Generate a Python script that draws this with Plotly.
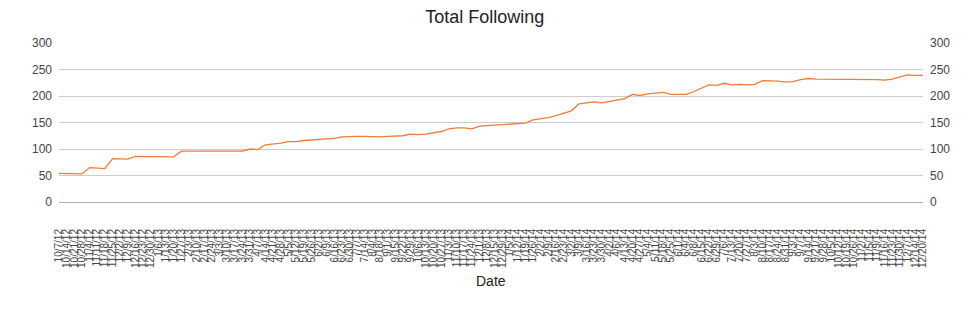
import plotly.graph_objects as go

dates = [
    "10/7/12", "10/14/12", "10/21/12", "10/28/12", "11/4/12", "11/11/12", "11/18/12", "11/25/12",
    "12/2/12", "12/9/12", "12/16/12", "12/23/12", "12/30/12",
    "1/6/13", "1/13/13", "1/20/13", "1/27/13", "2/3/13", "2/10/13", "2/17/13", "2/24/13",
    "3/3/13", "3/10/13", "3/17/13", "3/24/13", "3/31/13", "4/7/13", "4/14/13", "4/21/13",
    "4/28/13", "5/5/13", "5/12/13", "5/19/13", "5/26/13", "6/2/13", "6/9/13", "6/16/13",
    "6/23/13", "6/30/13", "7/7/13", "7/14/13", "8/4/13", "8/18/13", "9/1/13", "9/15/13",
    "9/22/13", "9/29/13", "10/6/13", "10/13/13", "10/20/13", "10/27/13", "11/3/13", "11/10/13",
    "11/17/13", "11/24/13", "12/1/13", "12/8/13", "12/15/13", "12/29/13",
    "1/5/14", "1/12/14", "1/19/14", "1/26/14", "2/2/14", "2/9/14", "2/16/14", "2/23/14",
    "3/2/14", "3/9/14", "3/16/14", "3/23/14", "3/30/14", "4/2/14", "4/6/14", "4/13/14",
    "4/20/14", "4/27/14", "5/4/14", "5/11/14", "5/18/14", "5/25/14", "6/1/14", "6/4/14",
    "6/8/14", "6/15/14", "6/22/14", "6/29/14", "7/6/14", "7/13/14", "7/20/14", "7/27/14",
    "8/3/14", "8/10/14", "8/17/14", "8/24/14", "8/31/14", "9/3/14", "9/7/14", "9/14/14",
    "9/21/14", "9/28/14", "10/5/14", "10/12/14", "10/19/14", "10/26/14", "11/2/14", "11/5/14",
    "11/9/14", "11/16/14", "11/23/14", "11/30/14", "12/7/14", "12/14/14", "12/20/14",
]

following = [
    54, 54, 54, 53, 65, 64, 63, 82, 81, 81, 86, 86, 86, 86, 86, 85,
    96, 96, 96, 96, 96, 96, 96, 96, 96, 100, 99, 108, 109, 111, 114, 114,
    116, 117, 117, 119, 120, 123, 124, 124, 124, 123, 123, 124, 124, 125,
    128, 127, 128, 130, 133, 138, 140, 140, 138, 143, 144, 145, 147, 147,
    148, 149, 155, 157, 159, 163, 168, 172, 185, 187, 189, 187, 190, 192,
    195, 203, 201, 204, 205, 207, 203, 203, 203, 208, 214, 221, 220, 224,
    221, 222, 221, 222, 229, 229, 228, 226, 227, 231, 233, 232, 232, 232,
    232, 231, 232, 232, 232, 231, 230, 232, 236, 240, 239, 239,
]

y_ticks = [0, 50, 100, 150, 200, 250, 300]

n = len(dates)
line_color = "#f47b36"

fig = go.Figure()
fig.add_trace(go.Scatter(x=dates, y=following, mode="lines",
                         line=dict(color=line_color, width=1.3),
                         name="Total Following", xaxis="x", yaxis="y"))
# invisible twin trace so the right-hand axis and the second label row render
fig.add_trace(go.Scatter(x=dates, y=following, mode="lines",
                         line=dict(color="rgba(0,0,0,0)", width=0),
                         hoverinfo="skip", showlegend=False, xaxis="x2", yaxis="y2"))

W, H = 962, 311
L, R, T, B = 59, 33, 43, 109
plot_h = H - T - B

xcommon = dict(type="category", range=[0, n - 1], tickmode="array", tickangle=-90,
               tickfont=dict(size=10, color="#444"), showgrid=False,
               showline=False, zeroline=False, ticks="", ticklabelstandoff=24)

fig.update_layout(
    width=W, height=H,
    margin=dict(l=L, r=R, t=T, b=B),
    paper_bgcolor="white", plot_bgcolor="white",
    showlegend=False,
    font=dict(family="Liberation Sans, Arial, sans-serif", color="#444"),
    title=dict(text="Total Following", x=0.504, xref="container", xanchor="center",
               y=1 - 17 / H, yref="container", yanchor="middle",
               font=dict(size=18, color="#222")),
    xaxis=dict(**xcommon, tickvals=dates[0::2], ticktext=dates[0::2]),
    xaxis2=dict(**xcommon, tickvals=dates[1::2], ticktext=dates[1::2],
                overlaying="x", side="bottom", anchor="y"),
    yaxis=dict(range=[0, 300], tickvals=y_ticks, showgrid=True, gridcolor="#cccccc",
               gridwidth=1, zeroline=True, zerolinecolor="#b0b0b0", zerolinewidth=1,
               tickfont=dict(size=12, color="#444"), ticks="", ticklabelstandoff=6,
               showline=False),
    yaxis2=dict(range=[0, 300], tickvals=y_ticks, overlaying="y", side="right",
                anchor="x", showgrid=False, zeroline=False,
                tickfont=dict(size=12, color="#444"),
                ticks="", ticklabelstandoff=6, showline=False),
    annotations=[dict(text="Date", x=0.5, xref="paper", y=-(281 - (H - B)) / plot_h,
                      yref="paper", yanchor="middle", xanchor="center", showarrow=False,
                      font=dict(size=14, color="#222"))],
)

fig.write_html("out.html")
